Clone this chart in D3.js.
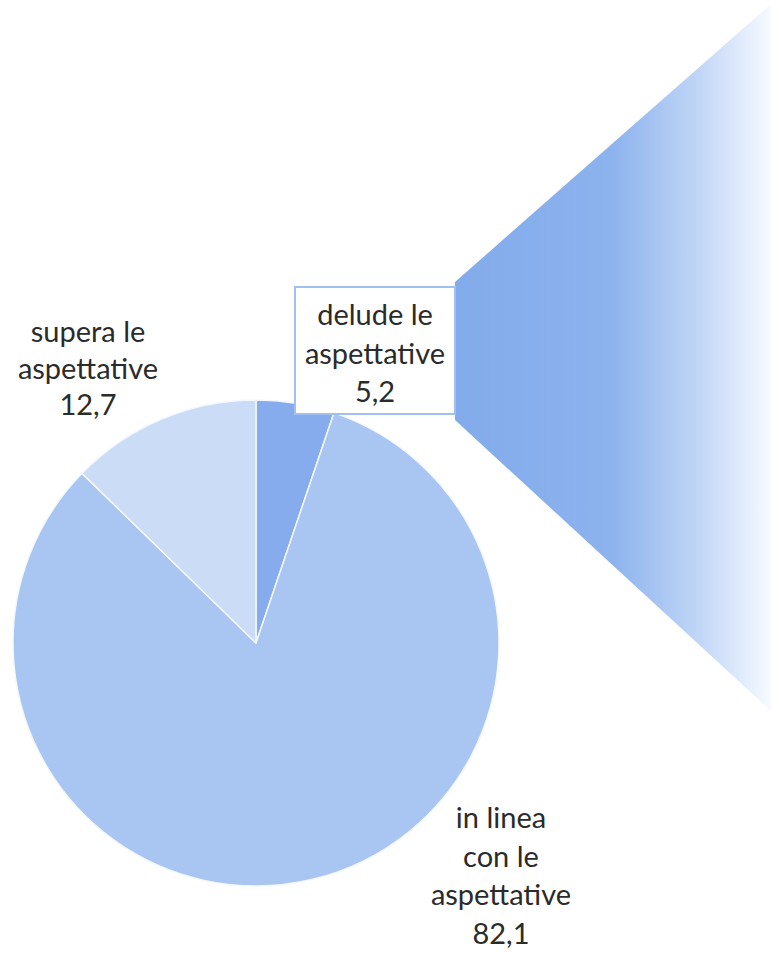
<!DOCTYPE html>
<html lang="it">
<head>
    <meta charset="UTF-8">
    <title>Aspettative</title>
    <script src="https://d3js.org/d3.v7.min.js"></script>
    <style>
        body { margin: 0; background: #fff; }
        svg text { font-family: Lato, "Open Sans", sans-serif; fill: #2b2b2b; }
    </style>
</head>
<body>
<div id="chart"></div>
<script>
    // data
    var categories = ["delude le aspettative", "in linea con le aspettative", "supera le aspettative"];
    var values = [5.2, 82.1, 12.7];
    var labelLines = [["delude le", "aspettative"], ["in linea", "con le", "aspettative"], ["supera le", "aspettative"]];
    var colors = ["#86aced", "#a9c5f1", "#cbdcf7"];

    var width = 771, height = 953,
        cx = 256, cy = 643, radius = 243;

    var svg = d3.select("#chart").append("svg")
        .attr("width", width)
        .attr("height", height);

    var defs = svg.append("defs");
    var grad = defs.append("linearGradient")
        .attr("id", "fade")
        .attr("x1", "0%").attr("x2", "100%").attr("y1", "0%").attr("y2", "0%");
    grad.append("stop").attr("offset", "0%").attr("stop-color", "#82abeb");
    grad.append("stop").attr("offset", "50%").attr("stop-color", "#8db3ee");
    grad.append("stop").attr("offset", "78%").attr("stop-color", "#c2d7f7");
    grad.append("stop").attr("offset", "100%").attr("stop-color", "#f7faff");

    // exploded view of the small slice (decorative wedge to the right)
    var fan = [[455, 282], [771, 4], [771, 711], [455, 420]];
    svg.append("path")
        .attr("d", d3.line()(fan) + "Z")
        .attr("fill", "url(#fade)");

    var pie = d3.pie().sort(null).value(function(d) { return d; });
    var arcs = pie(values);
    var arc = d3.arc().innerRadius(0).outerRadius(radius);

    var g = svg.append("g").attr("transform", "translate(" + cx + "," + cy + ")");
    g.selectAll("path")
        .data(arcs)
        .enter()
        .append("path")
        .attr("d", arc)
        .attr("fill", function(d, i) { return colors[i]; })
        .attr("stroke", "#f4f8fe")
        .attr("stroke-width", 1.5)
        .attr("stroke-linejoin", "round");

    // label box for the small slice
    svg.append("rect")
        .attr("x", 295).attr("y", 287)
        .attr("width", 160).attr("height", 127)
        .attr("fill", "#fff")
        .attr("stroke", "#9fc0f0")
        .attr("stroke-width", 2);

    var fmt = function(v) { return d3.format(".1f")(v).replace(".", ","); };

    // label anchors: x centre, first baseline, line step
    var labelPos = [[375, 325, 38.5], [501, 828, 38.5], [88, 342, 36.5]];

    labelLines.forEach(function(lines, i) {
        var all = lines.concat([fmt(values[i])]);
        var t = svg.append("text")
            .attr("text-anchor", "middle")
            .style("font-size", "29px");
        all.forEach(function(s, j) {
            t.append("tspan")
                .attr("x", labelPos[i][0])
                .attr("y", labelPos[i][1] + j * labelPos[i][2])
                .text(s);
        });
    });
</script>
</body>
</html>
